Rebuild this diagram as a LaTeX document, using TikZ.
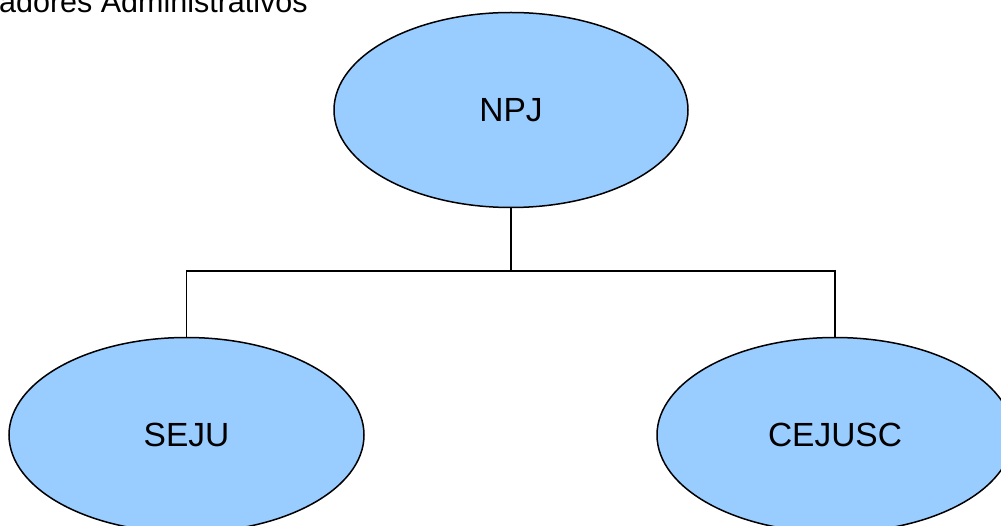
\documentclass[tikz,border=0pt]{standalone}
\usepackage{fontspec}
\setmainfont{Liberation Sans}
\usetikzlibrary{shapes.geometric}
\definecolor{bubble}{HTML}{99CCFF}
\begin{document}
\begin{tikzpicture}[x=1pt,y=-1pt,
  unit/.style={ellipse,draw=black,line width=1.5pt,fill=bubble,minimum width=354pt,minimum height=195pt,inner sep=0pt,font=\fontsize{33.5}{38}\selectfont},
  link/.style={draw=black,line width=1.2pt}]
\useasboundingbox (0,0) rectangle (1001,526);
\clip (0,0) rectangle (1001,526);
\node[anchor=base west,inner sep=0pt,font=\fontsize{30.5}{36}\selectfont] (title) at (-1,13) {adores Administrativos};
\node[unit] (npj) at (511,110) {NPJ};
\node[unit,minimum width=355pt] (seju) at (186.5,435) {SEJU};
\node[unit,minimum width=356pt] (cejusc) at (835,435) {CEJUSC};
\coordinate (j) at (511,271);
\draw[link] (npj.south) -- (j) -| (seju.north);
\draw[link] (j) -| (cejusc.north);
\end{tikzpicture}
\end{document}
